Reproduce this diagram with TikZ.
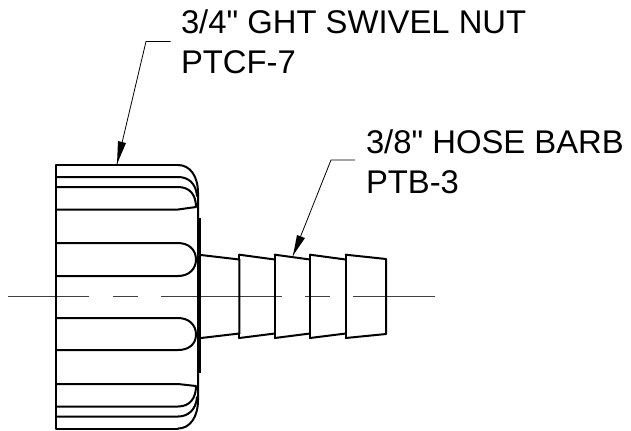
\documentclass[tikz,border=0pt]{standalone}
\usepackage{fontspec}
\newfontfamily\labelfont{Liberation Sans}
\tikzset{
  outline/.style={line width=1.5pt,line cap=round,line join=round},
  thickedge/.style={line width=3pt},
  center/.style={line width=0.6pt,draw=black!75},
  leader/.style={line width=0.6pt},
  head/.style={fill=black,draw=none},
  label/.style={anchor=base west,inner sep=0pt,outer sep=0pt,font=\labelfont\fontsize{24.6pt}{24.6pt}\selectfont}
}
\begin{document}
\begin{tikzpicture}[x=0.75pt,y=-0.75pt]
\useasboundingbox (0,0) rectangle (631,430);
% centre line
\draw[center] (8,296.5) -- (89,296.5) (113,296.5) -- (138,296.5) (161,296.5) -- (282,296.5) (305,296.5) -- (330,296.5) (353,296.5) -- (435,296.5);
% nut
\draw[outline] (178,165) -- (56,165) -- (56,428.5) -- (178,428.5);
\draw[outline] (178,165) .. controls (190,165) and (198,176) .. (198,193) -- (198,400) .. controls (198,417) and (190,428.5) .. (178,428.5);
\draw[outline] (56,177) -- (178,177) .. controls (188,177) and (196,183) .. (197,196);
\draw[outline] (56,416.5) -- (178,416.5) .. controls (188,416.5) and (196,410) .. (197,397);
\draw[outline] (56,187) -- (178,187) .. controls (190,187) and (196,195) .. (196,207) -- (178,209.5) -- (56,209.5);
\draw[outline] (56,406.5) -- (178,406.5) .. controls (190,406.5) and (196,398) .. (196,386) -- (178,384) -- (56,384);
\draw[outline] (56,243) -- (178,243) .. controls (189,243) and (196,250) .. (196,259.5) .. controls (196,269) and (189,276) .. (178,276) -- (56,276);
\draw[outline] (56,318) -- (178,318) .. controls (189,318) and (196,325) .. (196,334.5) .. controls (196,344) and (189,350) .. (178,350) -- (56,350);
\draw[thickedge] (199,218) -- (199,373);
% barb
\draw[outline] (201,255) -- (239.3,259.5) (201,338) -- (239.3,333.5);
\draw[outline] (239.3,333.5) -- (239.3,338) (239.3,259.5) -- (239.3,254.7);
\draw[outline] (274.8,259.5) -- (239.3,254.7) (239.3,259.5) -- (239.3,333.5) (239.3,338) -- (274.8,333.5);
\draw[outline] (274.8,254.7) -- (274.8,338);
\draw[outline] (274.8,254.7) -- (310,259.5) (274.8,338) -- (310,333.5);
\draw[outline] (310,254.7) -- (310,338);
\draw[outline] (310,254.7) -- (345.7,259.5) (310,338) -- (345.7,333.5);
\draw[outline] (345.7,254.7) -- (345.7,338);
\draw[outline] (345.7,254.7) -- (386,259) -- (386,334) -- (345.7,338);
% labels
\node[label] (nutlabel) at (181,33.5) {3/4" GHT SWIVEL NUT};
\node[label] (nutcode) at (181,73) {PTCF-7};
\node[label] (barblabel) at (366,153) {3/8" HOSE BARB};
\node[label] (barbcode) at (366,193) {PTB-3};
% leaders
\coordinate (nutstart) at (170.7,41.5);
\coordinate (nutknee) at (146,41.5);
\coordinate (nuttip) at (117,164);
\draw[leader] (nutstart) -- (nutknee) -- (nuttip);
\fill[head] (nuttip) -- (118,141) -- (126,143) -- cycle;
\coordinate (barbstart) at (355,160);
\coordinate (barbknee) at (331,160);
\coordinate (barbtip) at (293,255.5);
\draw[leader] (barbstart) -- (barbknee) -- (barbtip);
\fill[head] (barbtip) -- (297,235) -- (305,238) -- cycle;
\end{tikzpicture}
\end{document}
